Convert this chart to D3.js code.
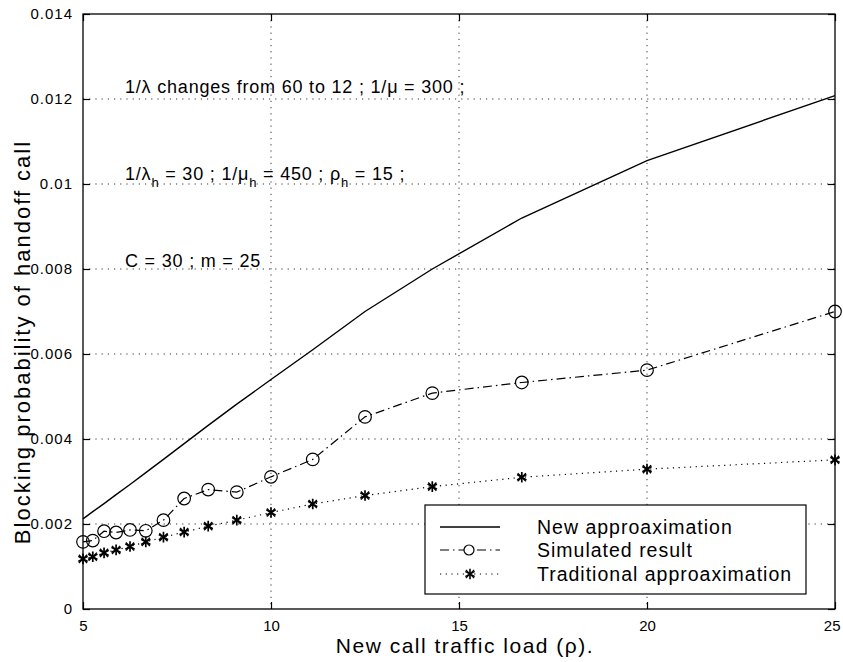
<!DOCTYPE html>
<html>
<head>
<meta charset="utf-8">
<script src="https://cdn.jsdelivr.net/npm/d3@7"></script>
<style>
  body { margin: 0; background: #fff; }
  svg { display: block; font-family: "Liberation Sans", Arial, Helvetica, sans-serif; }
</style>
</head>
<body>
<div id="chart"></div>
<script>
// data
const loads = [5, 5.26, 5.56, 5.88, 6.25, 6.67, 7.14, 7.69, 8.33, 9.09, 10, 11.11, 12.5, 14.29, 16.67, 20, 25];
const newApprox = [0.00212, 0.00229, 0.00248, 0.00269, 0.00293, 0.00321, 0.00352, 0.00389, 0.00432, 0.00482, 0.0054, 0.0061, 0.0070, 0.0080, 0.0092, 0.01055, 0.01208];
const simulated = [0.00158, 0.00161, 0.00183, 0.00180, 0.00186, 0.00184, 0.00209, 0.00260, 0.00281, 0.00275, 0.00311, 0.00352, 0.00452, 0.00508, 0.00533, 0.00562, 0.00700];
const traditional = [0.00118, 0.00123, 0.00132, 0.00139, 0.00147, 0.00158, 0.00169, 0.00181, 0.00195, 0.00209, 0.00227, 0.00247, 0.00267, 0.00288, 0.00310, 0.00329, 0.00351];
const xTicks = [5, 10, 15, 20, 25];
const yTicks = [0, 0.002, 0.004, 0.006, 0.008, 0.01, 0.012, 0.014];
const yTickLabels = ['0', '0.002', '0.004', '0.006', '0.008', '0.01', '0.012', '0.014'];
const legendLabels = ['New approaximation', 'Simulated result', 'Traditional approaximation'];

const W = 843, H = 662;
const margin = {top: 14, right: 8, bottom: 53, left: 83};
const width = W - margin.left - margin.right;
const height = H - margin.top - margin.bottom;

const svg = d3.select('#chart').append('svg')
    .attr('width', W)
    .attr('height', H);

const g = svg.append('g').attr('transform', 'translate(' + margin.left + ',' + margin.top + ')');

const x = d3.scaleLinear().domain([5, 25]).range([0, width]);
const y = d3.scaleLinear().domain([0, 0.014]).range([height, 0]);

// grid
const gridDash = '1.2,5';
g.append('g').selectAll('line')
    .data(xTicks.slice(1, -1)).enter()
    .append('line')
    .attr('x1', d => x(d)).attr('x2', d => x(d))
    .attr('y1', 0).attr('y2', height)
    .attr('stroke', '#333').attr('stroke-width', 1)
    .attr('stroke-dasharray', gridDash);
g.append('g').selectAll('line')
    .data(yTicks.slice(1, -1)).enter()
    .append('line')
    .attr('y1', d => y(d)).attr('y2', d => y(d))
    .attr('x1', 0).attr('x2', width)
    .attr('stroke', '#333').attr('stroke-width', 1)
    .attr('stroke-dasharray', gridDash);

// axes (MATLAB style, ticks inside, box all round)
const tickLen = 7;
const xAxisB = d3.axisBottom(x).tickValues(xTicks).tickSize(-tickLen).tickPadding(tickLen + 4);
const xAxisT = d3.axisTop(x).tickValues(xTicks).tickSize(-tickLen).tickFormat('');
const yAxisL = d3.axisLeft(y).tickValues(yTicks).tickSize(-tickLen).tickPadding(tickLen + 3)
    .tickFormat((d, i) => yTickLabels[i]);
const yAxisR = d3.axisRight(y).tickValues(yTicks).tickSize(-tickLen).tickFormat('');

function styleAxis(sel) {
    sel.select('.domain').remove();
    sel.selectAll('.tick line').attr('stroke', '#000').attr('stroke-width', 1.2);
    sel.selectAll('.tick text').attr('fill', '#000')
        .style('font-size', '15px')
        .style('font-family', '"Liberation Sans", Arial, Helvetica, sans-serif');
}

const xAxisG = g.append('g').attr('transform', 'translate(0,' + height + ')').call(xAxisB).call(styleAxis);
// last label sits against the right edge, as in the original
xAxisG.selectAll('.tick text').filter(d => d === 25)
    .attr('text-anchor', 'end').attr('dx', 5);
g.append('g').call(xAxisT).call(styleAxis);
g.append('g').call(yAxisL).call(styleAxis)
    .selectAll('.tick text').style('letter-spacing', '1px');
g.append('g').attr('transform', 'translate(' + width + ',0)').call(yAxisR).call(styleAxis);

g.append('rect')
    .attr('width', width).attr('height', height)
    .attr('fill', 'none').attr('stroke', '#000').attr('stroke-width', 1.3);

// series
const pts = vals => loads.map((d, i) => [d, vals[i]]);
const line = d3.line().x(d => x(d[0])).y(d => y(d[1]));

g.append('path').datum(pts(newApprox))
    .attr('d', line).attr('fill', 'none')
    .attr('stroke', '#000').attr('stroke-width', 1.4);

g.append('path').datum(pts(simulated))
    .attr('d', line).attr('fill', 'none')
    .attr('stroke', '#000').attr('stroke-width', 1.2)
    .attr('stroke-dasharray', '9,4,1.5,4');

g.append('path').datum(pts(traditional))
    .attr('d', line).attr('fill', 'none')
    .attr('stroke', '#000').attr('stroke-width', 1.2)
    .attr('stroke-dasharray', '1.2,4.5');

g.append('g').selectAll('circle')
    .data(pts(simulated)).enter()
    .append('circle')
    .attr('cx', d => x(d[0])).attr('cy', d => y(d[1]))
    .attr('r', 6.3)
    .attr('fill', 'none').attr('stroke', '#000').attr('stroke-width', 1.2);

const star = d3.symbol().type(d3.symbolAsterisk).size(80);
const times = d3.symbol().type(d3.symbolTimes).size(45);
const starG = g.append('g').selectAll('g')
    .data(pts(traditional)).enter()
    .append('g')
    .attr('transform', d => 'translate(' + x(d[0]) + ',' + y(d[1]) + ')');
starG.append('path').attr('d', star).attr('fill', 'none').attr('stroke', '#000').attr('stroke-width', 1.7);
starG.append('path').attr('d', times).attr('fill', 'none').attr('stroke', '#000').attr('stroke-width', 1.3);

// annotations
const ann = g.append('g').style('font-size', '18px').style('letter-spacing', '0.8px').attr('fill', '#000');
const subSize = '13px';

ann.append('text').attr('x', 125 - margin.left).attr('y', 93 - margin.top)
    .text('1/λ changes from 60 to 12 ; 1/μ = 300 ;');

const t2 = ann.append('text').attr('x', 125 - margin.left).attr('y', 180 - margin.top);
[['1/λ', 0], ['h', 1], [' = 30 ; 1/μ', 0], ['h', 1], [' = 450 ; ρ', 0], ['h', 1], [' = 15 ;', 0]]
    .forEach(([s, sub]) => {
        const ts = t2.append('tspan').text(s);
        if (sub) ts.attr('dy', 7).style('font-size', subSize);
        else ts.attr('dy', t2.selectAll('tspan').size() > 1 ? -7 : 0);
    });

ann.append('text').attr('x', 125 - margin.left).attr('y', 267 - margin.top)
    .text('C = 30 ; m = 25');

// legend
const lg = svg.append('g').attr('transform', 'translate(425,505)');
lg.append('rect').attr('width', 381).attr('height', 89)
    .attr('fill', '#fff').attr('stroke', '#000').attr('stroke-width', 1.2);

const rowY = [22, 45, 69];
const dashes = [null, '9,4,1.5,4', '1.2,4.5'];
legendLabels.forEach((label, i) => {
    const ln = lg.append('line')
        .attr('x1', 15).attr('x2', 75)
        .attr('y1', rowY[i]).attr('y2', rowY[i])
        .attr('stroke', '#000').attr('stroke-width', i === 0 ? 1.4 : 1.2);
    if (dashes[i]) ln.attr('stroke-dasharray', dashes[i]);
    lg.append('text').attr('x', 112).attr('y', rowY[i]).attr('dy', '0.35em')
        .style('font-size', '19.5px').style('letter-spacing', '1px').text(label);
});
lg.append('circle').attr('cx', 44).attr('cy', rowY[1]).attr('r', 5)
    .attr('fill', '#fff').attr('stroke', '#000').attr('stroke-width', 1.2);
const lgStar = lg.append('g').attr('transform', 'translate(45,' + rowY[2] + ')');
lgStar.append('path').attr('d', star).attr('fill', 'none').attr('stroke', '#000').attr('stroke-width', 1.6);
lgStar.append('path').attr('d', times).attr('fill', 'none').attr('stroke', '#000').attr('stroke-width', 1.2);

// axis titles
svg.append('text')
    .attr('x', 465).attr('y', 653)
    .attr('text-anchor', 'middle')
    .style('font-size', '21px')
    .style('letter-spacing', '1.5px')
    .text('New call traffic load (ρ).');

svg.append('text')
    .attr('transform', 'translate(30,342) rotate(-90)')
    .attr('text-anchor', 'middle')
    .style('font-size', '22px')
    .style('letter-spacing', '2px')
    .text('Blocking probability of handoff call');
</script>
</body>
</html>
